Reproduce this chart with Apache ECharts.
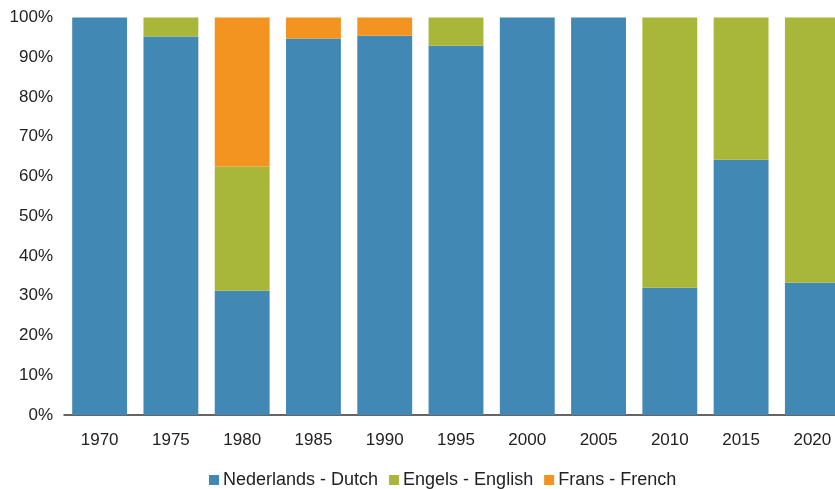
<!DOCTYPE html>
<html>
<head>
  <meta charset="utf-8">
  <title>Taal - language</title>
  <script src="https://cdn.jsdelivr.net/npm/echarts@6/dist/echarts.min.js"></script>
  <style>
    html, body { margin: 0; padding: 0; background: #fff; }
    #chart { width: 835px; height: 489px; }
  </style>
</head>
<body>
  <div id="chart"></div>
  <script>
    // jaren op de x-as
    var years = ['1970', '1975', '1980', '1985', '1990', '1995', '2000', '2005', '2010', '2015', '2020'];
    // aandeel per taal (%)
    var dutch   = [100, 95.2, 31.25, 94.7, 95.4, 92.9, 100, 100, 32.0, 64.2, 33.3];
    var english = [0, 4.8, 31.25, 0, 0, 7.1, 0, 0, 68.0, 35.8, 66.7];
    var french  = [0, 0, 37.5, 5.3, 4.6, 0, 0, 0, 0, 0, 0];

    var chart = echarts.init(document.getElementById('chart'));
    var font = 'Liberation Sans';

    function serie(name, data, color) {
      return {
        name: name,
        type: 'bar',
        stack: 'taal',
        data: data,
        barCategoryGap: '23%',
        itemStyle: { color: color },
        emphasis: { disabled: true }
      };
    }

    chart.setOption({
      animation: false,
      // plot loopt rechts buiten beeld door
      grid: { left: 64, top: 17.5, width: 784, height: 397.5, outerBoundsMode: 'none' },
      legend: {
        left: 209,
        top: 471,
        padding: 0,
        itemWidth: 10,
        itemHeight: 10,
        itemGap: 11,
        icon: 'rect',
        textStyle: { fontFamily: font, fontSize: 18, color: '#222', padding: [0, 0, 0, -1] },
        data: ['Nederlands - Dutch', 'Engels - English', 'Frans - French']
      },
      xAxis: {
        type: 'category',
        data: years,
        axisLine: { lineStyle: { color: '#333', width: 1.5 } },
        axisTick: { show: false },
        axisLabel: { fontFamily: font, fontSize: 17, color: '#222', margin: 17 }
      },
      yAxis: {
        type: 'value',
        min: 0,
        max: 100,
        interval: 10,
        axisLine: { show: false },
        axisTick: { show: false },
        splitLine: { show: false },
        axisLabel: { fontFamily: font, fontSize: 17, color: '#222', margin: 11, formatter: '{value}%' }
      },
      series: [
        serie('Nederlands - Dutch', dutch, '#4288B4'),
        serie('Engels - English', english, '#A8B63A'),
        serie('Frans - French', french, '#F39320')
      ]
    });
  </script>
</body>
</html>
